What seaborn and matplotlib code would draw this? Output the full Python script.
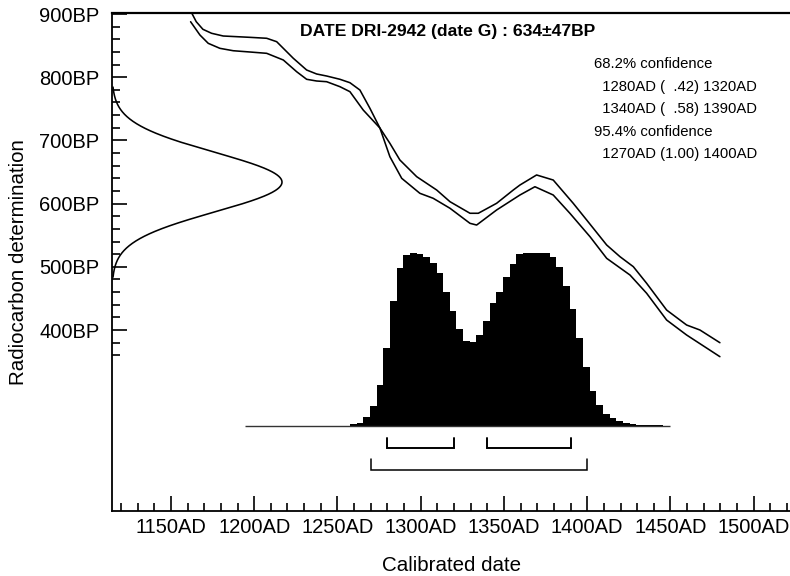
import numpy as np
import matplotlib
matplotlib.use("Agg")
import matplotlib.pyplot as plt
import seaborn as sns

# ---------------- data ----------------
# calibration curve band (two lines), calibrated year AD vs radiocarbon BP
upper_year = [1161.8, 1165.2, 1169.2, 1174.4, 1181.4, 1197.4, 1207.5, 1213.5, 1223.5, 1231.5,
              1237.5, 1243.5, 1251.5, 1257.5, 1263.5, 1269.5, 1275.5, 1281.5, 1287.5, 1297.6,
              1309.6, 1317.6, 1329.6, 1334.6, 1345.6, 1355.6, 1359.6, 1369.6, 1379.6, 1391.6,
              1399.7, 1411.7, 1419.7, 1427.7, 1435.7, 1447.7, 1459.7, 1467.7, 1479.7]
upper_bp = [905.0, 887.8, 875.8, 869.5, 865.2, 863.1, 861.6, 856.2, 829.9, 811.4,
            805.1, 801.9, 796.7, 791.3, 779.7, 750.8, 719.6, 695.4, 669.0, 642.6,
            621.5, 603.0, 584.7, 584.7, 600.5, 621.5, 629.4, 645.3, 637.3, 600.5,
            574.0, 534.5, 516.0, 500.2, 473.9, 431.6, 407.9, 400.0, 379.9]

lower_year = [1161.8, 1167.4, 1172.4, 1179.4, 1187.4, 1197.4, 1207.5, 1217.5, 1225.5, 1231.5,
              1237.5, 1243.5, 1251.5, 1257.5, 1265.5, 1275.5, 1281.5, 1288.6, 1299.5, 1307.5,
              1317.6, 1329.6, 1333.6, 1345.6, 1359.6, 1368.6, 1379.6, 1389.6, 1401.7, 1411.7,
              1425.7, 1435.7, 1447.7, 1459.7, 1479.7]
lower_bp = [887.8, 866.8, 853.6, 845.7, 841.9, 839.9, 837.8, 827.2, 808.7, 796.7,
            794.0, 792.9, 785.0, 777.1, 748.0, 719.6, 674.2, 640.0, 616.3, 608.4,
            592.6, 568.8, 566.1, 589.9, 613.6, 626.7, 613.6, 584.7, 547.6, 513.4,
            487.0, 458.1, 415.8, 392.1, 357.8]

# radiocarbon measurement
date_mean = 634
date_sd = 47

# calibrated probability histogram (4-year bins, relative probability, % of max)
bin_start = 1257.5
bin_width = 4
probability = [1.2, 1.9, 5.0, 11.5, 23.5, 44.8, 72.1, 91.3, 98.7, 100.0,
               99.2, 97.3, 93.8, 88.1, 77.5, 66.5, 55.8, 49.2, 48.7, 52.3,
               60.8, 71.2, 77.1, 86.2, 93.3, 99.2, 100.0, 100.0, 100.0, 99.8,
               97.7, 91.9, 80.8, 67.5, 50.6, 33.8, 20.4, 12.1, 6.7, 4.4,
               3.1, 1.9, 1.2, 0.8, 0.6, 0.4, 0.4, 0.2]

# confidence ranges
ranges_68 = [(1280, 1320), (1340, 1390)]
ranges_95 = [(1270, 1400)]

title_text = "DATE DRI-2942 (date G) : 634\u00b147BP"
info_lines = ["68.2% confidence",
              "  1280AD (  .42) 1320AD",
              "  1340AD (  .58) 1390AD",
              "95.4% confidence",
              "  1270AD (1.00) 1400AD"]

x_major = list(range(1150, 1501, 50))
x_minor = list(range(1120, 1521, 10))
y_major = list(range(400, 901, 100))
y_minor = list(range(360, 901, 20))

# ---------------- style ----------------
sns.set_style("ticks")
plt.rcParams["font.family"] = ["Liberation Sans", "DejaVu Sans"]
plt.rcParams["text.color"] = "black"
plt.rcParams["axes.labelcolor"] = "black"
plt.rcParams["xtick.color"] = "black"
plt.rcParams["ytick.color"] = "black"
plt.rcParams["axes.edgecolor"] = "black"

W, H = 790, 576
fig = plt.figure(figsize=(W / 100, H / 100), dpi=100)
ax_l, ax_r, ax_t, ax_b = 112, 790, 13, 511
ax = fig.add_axes([ax_l / W, 1 - ax_b / H, (ax_r - ax_l) / W, (ax_b - ax_t) / H])

xlim = (1114.6, 1521.8)
ylim = (113.6, 901.6)
ax.set_xlim(*xlim)
ax.set_ylim(*ylim)

lw = 1.15
line_kw = dict(sort=False, estimator=None, color="black", lw=lw, ax=ax,
               solid_joinstyle="round", solid_capstyle="round")
# calibration curve
sns.lineplot(x=upper_year, y=upper_bp, **line_kw)
sns.lineplot(x=lower_year, y=lower_bp, **line_kw)

# radiocarbon gaussian on the y axis
gy = np.linspace(date_mean - 3.2 * date_sd, date_mean + 3.2 * date_sd, 400)
gx = xlim[0] + 102.1 * np.exp(-0.5 * ((gy - date_mean) / date_sd) ** 2)
sns.lineplot(x=gx, y=gy, **line_kw)

# calibrated distribution histogram
base = 248.1
scale = 274.3 / 100.0
edges = [bin_start + i * bin_width for i in range(len(probability))]
ax.bar(edges, [p * scale for p in probability], width=bin_width, align="edge",
       bottom=base, color="black", linewidth=0)
ax.hlines(base, 1194.4, 1449.7, color="#333333", lw=1.0)

# confidence brackets
def bracket(a, b, y, h, lwb):
    ax.plot([a, a, b, b], [y + h, y, y, y + h], color="black", lw=lwb,
            solid_joinstyle="miter")

for a, b in ranges_68:
    bracket(a, b, 213.8, 15.8, 1.4)
for a, b in ranges_95:
    bracket(a, b, 178.5, 16.9, 1.1)

# axes, ticks
for s in ["left", "bottom", "top"]:
    ax.spines[s].set_visible(True)
    ax.spines[s].set_linewidth(1.3)
    ax.spines[s].set_color("black")
ax.spines["top"].set_linewidth(1.6)
ax.spines["right"].set_visible(False)

ax.set_xticks(x_major)
ax.set_xticks([v for v in x_minor if v not in x_major], minor=True)
ax.set_yticks(y_major)
ax.set_yticks([v for v in y_minor if v not in y_major], minor=True)
ax.set_xticklabels([f"{v}AD" for v in x_major])
ax.set_yticklabels([f"{v}BP" for v in y_major])
ax.tick_params(which="both", direction="in", width=1.2, color="black",
               labelcolor="black", top=False, right=False, labelsize=14.5)
ax.tick_params(which="major", length=11)
ax.tick_params(which="minor", length=6)
ax.tick_params(axis="y", which="major", pad=9)
ax.tick_params(axis="x", which="major", pad=5)

ax.set_xlabel("Calibrated date", fontsize=14.8, labelpad=14, color="black")
ax.set_ylabel("Radiocarbon determination", fontsize=14.8, labelpad=8, color="black")

# texts
fig.text(300 / W, 1 - 31.5 / H, title_text, fontsize=12.6, fontweight="bold",
         ha="left", va="center", color="black")
ys = [64, 86.5, 109, 131.5, 154]
for line, yy in zip(info_lines, ys):
    fig.text(594 / W, 1 - yy / H, line, fontsize=10.7, ha="left", va="center",
             color="black")

fig.savefig("out.png", dpi=100)
